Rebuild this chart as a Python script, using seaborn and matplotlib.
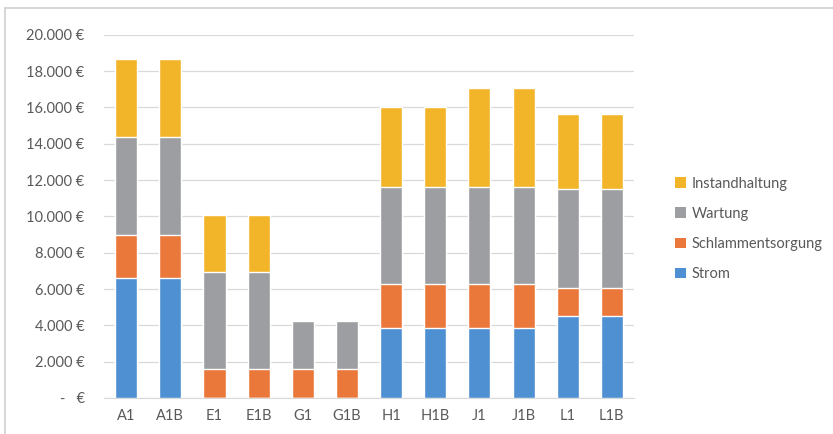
import matplotlib
matplotlib.use("Agg")
import matplotlib.pyplot as plt
from matplotlib.lines import Line2D
from matplotlib.patches import Patch
import numpy as np
import pandas as pd
import seaborn as sns

# Daten
anlagen = ["A1", "A1B", "E1", "E1B", "G1", "G1B", "H1", "H1B", "J1", "J1B", "L1", "L1B"]
strom = [6600, 6600, 0, 0, 0, 0, 3860, 3860, 3860, 3860, 4500, 4500]
schlamm = [2400, 2400, 1600, 1600, 1600, 1600, 2400, 2400, 2400, 2400, 1530, 1530]
wartung = [5350, 5350, 5350, 5350, 2650, 2650, 5360, 5360, 5360, 5360, 5450, 5450]
instand = [4300, 4300, 3100, 3100, 0, 0, 4400, 4400, 5430, 5430, 4150, 4150]

farben = {"Strom": "#4E90D2", "Schlammentsorgung": "#E9783A",
          "Wartung": "#9C9EA1", "Instandhaltung": "#F2B52A"}
textfarbe = "#595959"

sns.set_style("white")
plt.rcParams["font.family"] = ["Lato", "DejaVu Sans"]

df = pd.DataFrame({"anlage": anlagen, "Strom": strom, "Schlammentsorgung": schlamm,
                   "Wartung": wartung, "Instandhaltung": instand})
# kumulierte Werte für gestapelte Balken (von oben nach unten zeichnen)
df["c_strom"] = df["Strom"]
df["c_schlamm"] = df["c_strom"] + df["Schlammentsorgung"]
df["c_wartung"] = df["c_schlamm"] + df["Wartung"]
df["c_instand"] = df["c_wartung"] + df["Instandhaltung"]

fig = plt.figure(figsize=(8.33, 4.34), dpi=100)
ax = fig.add_axes([0.125, 0.083, 0.636, 0.837])

for spalte, name in [("c_instand", "Instandhaltung"), ("c_wartung", "Wartung"),
                     ("c_schlamm", "Schlammentsorgung"), ("c_strom", "Strom")]:
    sns.barplot(data=df, x="anlage", y=spalte, color=farben[name], width=0.5,
                saturation=1, ax=ax, zorder=3)

ax.set_xlim(-0.5, 11.5)
ax.set_ylim(0, 20000)
ax.set_yticks(np.arange(0, 20001, 2000))
labels = ["-   €"] + [f"{v:,.0f} €".replace(",", ".") for v in np.arange(2000, 20001, 2000)]
ax.set_yticklabels(labels)
ax.yaxis.grid(True, color="#D9D9D9", linewidth=0.9, zorder=0)
ax.set_axisbelow(True)
ax.set_xlabel("")
ax.set_ylabel("")

for s in ["top", "right", "left"]:
    ax.spines[s].set_visible(False)
ax.spines["bottom"].set_color("#D9D9D9")
ax.tick_params(axis="y", length=0, pad=14, labelsize=10.5, labelcolor=textfarbe)
ax.tick_params(axis="x", length=0, pad=8, labelsize=10.5, labelcolor=textfarbe)
ax.set_xticks(np.arange(-0.5, 12, 1), minor=True)
ax.tick_params(axis="x", which="minor", length=4, color="#D9D9D9")

handles = [Patch(facecolor=farben[n], edgecolor="none", label=n)
           for n in ["Instandhaltung", "Wartung", "Schlammentsorgung", "Strom"]]
fig.legend(handles=handles, loc="center left", bbox_to_anchor=(0.795, 0.473),
           frameon=False, fontsize=10.5, labelcolor=textfarbe, handlelength=0.7,
           handleheight=0.7, handletextpad=0.4, labelspacing=1.1)

# Rahmen links und oben
fig.add_artist(Line2D([4.5 / 833, 1], [1 - 7.5 / 434, 1 - 7.5 / 434],
                      color="#D0D0D0", linewidth=1.2))
fig.add_artist(Line2D([4.5 / 833, 4.5 / 833], [0, 1 - 7.5 / 434],
                      color="#D0D0D0", linewidth=1.2))

fig.savefig("out.png", dpi=100)
